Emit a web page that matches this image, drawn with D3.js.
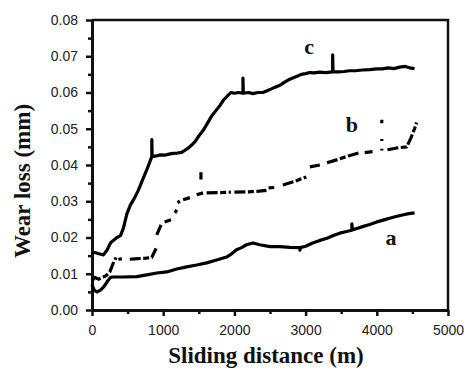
<!DOCTYPE html>
<html>
<head>
<meta charset="utf-8">
<script src="https://cdn.jsdelivr.net/npm/d3@7"></script>
<style>
  body { margin: 0; background: #fff; }
  .tick text { font-family: "Liberation Sans", Arial, sans-serif; font-size: 14px; fill: #222; }
  .title { font-family: "Liberation Serif", "Times New Roman", serif; font-weight: bold; font-size: 23px; fill: #111; }
  .curveLabel { font-family: "Liberation Serif", "Times New Roman", serif; font-weight: bold; font-size: 22px; fill: #111; }
</style>
</head>
<body>
<div id="chart"></div>
<script>
// tick values
var xTicks = [0, 1000, 2000, 3000, 4000, 5000];
var xMinor = [500, 1500, 2500, 3500, 4500];
var yTicks = [0, 0.01, 0.02, 0.03, 0.04, 0.05, 0.06, 0.07, 0.08];
var yMinor = [0.005, 0.015, 0.025, 0.035, 0.045, 0.055, 0.065, 0.075];

// curve a : [sliding distance (m), wear loss (mm)]
var curveA = [
  [0, 0.0070], [30, 0.0055], [70, 0.0050], [120, 0.0055], [170, 0.0065], [220, 0.0080],
  [260, 0.0090], [300, 0.0091], [435, 0.0091], [630, 0.0092], [770, 0.0097], [910, 0.0102],
  [1050, 0.0105], [1190, 0.0113], [1330, 0.0119], [1470, 0.0124], [1610, 0.0130], [1750, 0.0138],
  [1890, 0.0146], [1960, 0.0155], [2030, 0.0166], [2100, 0.0172], [2170, 0.0180], [2260, 0.0185],
  [2355, 0.0180], [2500, 0.0175], [2640, 0.0175], [2780, 0.0173], [2920, 0.0172], [2920, 0.0165],
  [2925, 0.0172], [3000, 0.0176], [3100, 0.0185], [3200, 0.0192], [3300, 0.0198], [3400, 0.0206],
  [3480, 0.0212], [3560, 0.0216], [3650, 0.0220], [3650, 0.0238], [3655, 0.0221], [3720, 0.0225],
  [3800, 0.0230], [3900, 0.0236], [4000, 0.0243], [4090, 0.0248], [4180, 0.0253], [4270, 0.0258],
  [4360, 0.0262], [4450, 0.0266], [4530, 0.0268]
];

// curve b (broken line, null = gap)
var curveB = [
  [0, 0.0080], [40, 0.0090], [90, 0.0085], [150, 0.0090], [200, 0.0095], [250, 0.0105],
  [280, 0.0120], [310, 0.0135], [340, 0.0145], null,
  [370, 0.0140], [420, 0.0141], null,
  [530, 0.0140], [600, 0.0141], [680, 0.0142], [760, 0.0143], [840, 0.0145], [900, 0.0170], null,
  [910, 0.0207], [980, 0.0240], null,
  [1020, 0.0243], [1110, 0.0249], null,
  [1165, 0.0268], [1190, 0.0276], null,
  [1200, 0.0296], [1235, 0.0300], null,
  [1280, 0.0304], [1375, 0.0310], null,
  [1470, 0.0318], [1560, 0.0323], null,
  [1530, 0.0360], [1530, 0.0380], null,
  [1610, 0.0323], [1800, 0.0324], [1950, 0.0325], null,
  [2000, 0.0325], [2200, 0.0326], [2350, 0.0328], [2450, 0.0330], null,
  [2480, 0.0337], [2560, 0.0338], null,
  [2680, 0.0345], [2850, 0.0355], [3010, 0.0367], null,
  [3060, 0.0395], [3200, 0.0400], null,
  [3300, 0.0406], [3450, 0.0415], [3600, 0.0425], [3760, 0.0434], null,
  [3830, 0.0434], [3940, 0.0437], null,
  [4070, 0.0440], [4070, 0.0445], null,
  [4070, 0.0466], [4070, 0.0472], null,
  [4070, 0.0515], [4070, 0.0525], null,
  [4150, 0.0442], [4280, 0.0447], [4420, 0.0450], [4480, 0.0475], [4530, 0.0500], [4560, 0.0517]
];

// curve c
var curveC = [
  [0, 0.0160], [50, 0.0158], [100, 0.0155], [160, 0.0152], [210, 0.0165], [260, 0.0185],
  [300, 0.0192], [350, 0.0200], [400, 0.0205], [440, 0.0225], [490, 0.0265], [540, 0.0290],
  [600, 0.0310], [650, 0.0330], [700, 0.0354], [770, 0.0387], [840, 0.0423], [840, 0.0470],
  [845, 0.0423], [900, 0.0425], [960, 0.0428], [1020, 0.0427], [1080, 0.0430], [1140, 0.0432],
  [1200, 0.0433], [1260, 0.0435], [1300, 0.0440], [1340, 0.0445], [1400, 0.0455], [1450, 0.0465],
  [1500, 0.0480], [1560, 0.0495], [1620, 0.0515], [1680, 0.0535], [1740, 0.0550], [1800, 0.0565],
  [1850, 0.0580], [1900, 0.0590], [1950, 0.0600], [2000, 0.0598], [2060, 0.0600], [2120, 0.0598],
  [2120, 0.0640], [2125, 0.0598], [2200, 0.0600], [2260, 0.0597], [2330, 0.0600], [2400, 0.0600],
  [2460, 0.0605], [2520, 0.0610], [2580, 0.0615], [2640, 0.0620], [2700, 0.0628], [2760, 0.0635],
  [2820, 0.0640], [2880, 0.0645], [2940, 0.0650], [3000, 0.0652], [3060, 0.0655], [3120, 0.0654],
  [3200, 0.0656], [3280, 0.0655], [3380, 0.0657], [3380, 0.0704], [3385, 0.0657], [3460, 0.0657],
  [3540, 0.0658], [3620, 0.0660], [3700, 0.0660], [3800, 0.0662], [3900, 0.0663], [4000, 0.0665],
  [4080, 0.0665], [4160, 0.0668], [4240, 0.0666], [4320, 0.0670], [4400, 0.0672], [4460, 0.0668],
  [4530, 0.0666]
];

var labelNames = ["a", "b", "c"];
var labelPos = [[4200, 0.0180], [3650, 0.0490], [3050, 0.0705]];

var svgWidth = 465;
var svgHeight = 375;

var margin = { top: 20, right: 17, bottom: 65, left: 92 };
var width = svgWidth - margin.left - margin.right;
var height = svgHeight - margin.top - margin.bottom;

var svg = d3.select("#chart")
  .append("svg")
  .attr("width", svgWidth)
  .attr("height", svgHeight);

var chartGroup = svg.append("g")
  .attr("transform", `translate(${margin.left}, ${margin.top})`);

var x = d3.scaleLinear().domain([0, 5000]).range([0, width]);
var y = d3.scaleLinear().domain([0, 0.08]).range([height, 0]);

// frame top / right
chartGroup.append("path")
  .attr("d", `M0,${y(0.08)}H${x(5000)}V${y(0)}`)
  .attr("fill", "none")
  .attr("stroke", "#111")
  .attr("stroke-width", 2.5);

// minor ticks
chartGroup.append("g")
  .attr("transform", `translate(0, ${height})`)
  .call(d3.axisBottom(x).tickValues(xMinor).tickSize(4).tickFormat("").tickSizeOuter(0))
  .call(g => g.select(".domain").remove())
  .selectAll("line").attr("stroke-width", 2.5).attr("stroke", "#111");

chartGroup.append("g")
  .call(d3.axisLeft(y).tickValues(yMinor).tickSize(4).tickFormat("").tickSizeOuter(0))
  .call(g => g.select(".domain").remove())
  .selectAll("line").attr("stroke-width", 2.5).attr("stroke", "#111");

// major axes
var xAxis = chartGroup.append("g")
  .attr("transform", `translate(0, ${height})`)
  .call(d3.axisBottom(x).tickValues(xTicks).tickSize(6).tickPadding(9).tickSizeOuter(0).tickFormat(d3.format("d")));

var yAxis = chartGroup.append("g")
  .call(d3.axisLeft(y).tickValues(yTicks).tickSize(6).tickPadding(8).tickSizeOuter(0).tickFormat(d3.format(".2f")));

[xAxis, yAxis].forEach(function(ax) {
  ax.select(".domain").attr("stroke-width", 3).attr("stroke", "#111");
  ax.selectAll(".tick line").attr("stroke-width", 2.5).attr("stroke", "#111");
});

// curves
var line = d3.line()
  .defined(d => d !== null)
  .x(d => x(d[0]))
  .y(d => y(d[1]));

[curveA, curveB, curveC].forEach(function(c, i) {
  chartGroup.append("path")
    .datum(c)
    .attr("d", line)
    .attr("fill", "none")
    .attr("stroke", "#000")
    .attr("stroke-width", 3.2)
    .attr("stroke-linejoin", "round")
    .attr("stroke-dasharray", i === 1 ? "11,2.5,6,2.5" : null);
});

// curve labels
chartGroup.selectAll(".curveLabel")
  .data(labelNames)
  .enter()
  .append("text")
  .attr("class", "curveLabel")
  .attr("text-anchor", "middle")
  .attr("x", (d, i) => x(labelPos[i][0]))
  .attr("y", (d, i) => y(labelPos[i][1]))
  .text(d => d);

// axis titles
svg.append("text")
  .attr("class", "title")
  .attr("text-anchor", "middle")
  .attr("x", 266)
  .attr("y", 363)
  .text("Sliding distance (m)");

svg.append("text")
  .attr("class", "title")
  .attr("text-anchor", "middle")
  .attr("transform", "translate(30, 181) rotate(-90)")
  .text("Wear loss (mm)");
</script>
</body>
</html>
